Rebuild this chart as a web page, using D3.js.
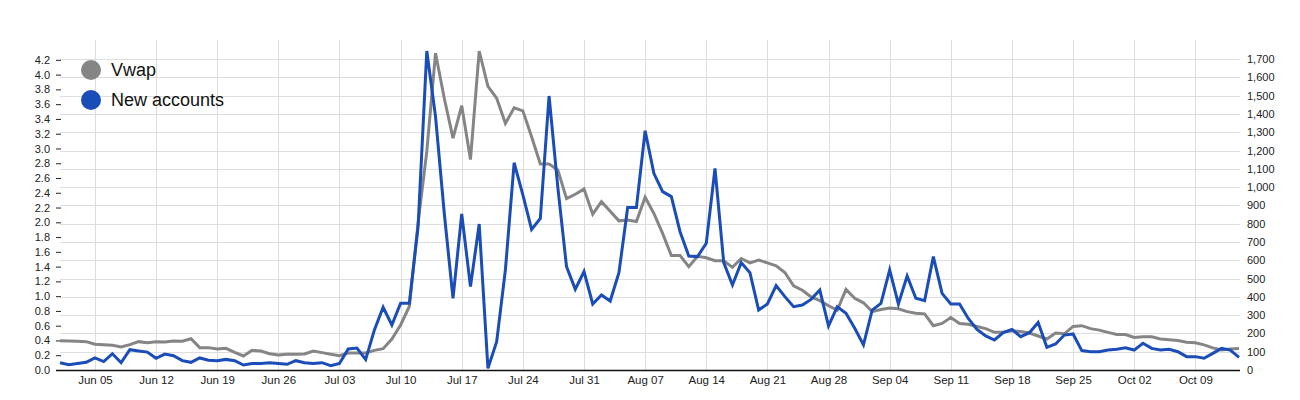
<!DOCTYPE html>
<html>
<head>
<meta charset="utf-8">
<script src="https://cdn.jsdelivr.net/npm/d3@7"></script>
<style>
  html, body { margin: 0; padding: 0; background: #fff; }
  svg { display: block; font-family: "Liberation Sans", Arial, sans-serif; }
</style>
</head>
<body>
<svg id="chart" width="1300" height="400"></svg>
<script>
// ---------- DATA ----------
const seriesNames = ["Vwap", "New accounts"];
const seriesColors = ["#858585", "#1a4db8"];
const startDay = "2016-06-01";
const endDay = "2016-10-14";

const vwap = [
  0.397, 0.393, 0.389, 0.384, 0.348, 0.343, 0.334, 0.312, 0.343, 0.384,
  0.370, 0.384, 0.379, 0.393, 0.389, 0.424, 0.303, 0.303, 0.285, 0.294,
  0.240, 0.190, 0.266, 0.257, 0.221, 0.203, 0.212, 0.212, 0.217, 0.257,
  0.235, 0.212, 0.194, 0.230, 0.230, 0.230, 0.266, 0.289, 0.420, 0.610,
  0.860, 1.990, 2.960, 4.290, 3.680, 3.140, 3.580, 2.850, 4.320, 3.840,
  3.680, 3.340, 3.550, 3.510, 3.160, 2.790, 2.790, 2.710, 2.320, 2.380,
  2.450, 2.110, 2.280, 2.150, 2.020, 2.030, 2.010, 2.340, 2.120, 1.850,
  1.550, 1.550, 1.400, 1.540, 1.520, 1.480, 1.480, 1.390, 1.510, 1.450,
  1.490, 1.450, 1.410, 1.320, 1.140, 1.080, 0.990, 0.940, 0.870, 0.810,
  1.090, 0.970, 0.910, 0.790, 0.820, 0.840, 0.830, 0.790, 0.770, 0.760,
  0.600, 0.630, 0.710, 0.630, 0.620, 0.590, 0.560, 0.510, 0.510, 0.530,
  0.520, 0.500, 0.460, 0.420, 0.500, 0.490, 0.590, 0.600, 0.560, 0.540,
  0.510, 0.480, 0.480, 0.440, 0.450, 0.450, 0.420, 0.410, 0.400, 0.375,
  0.370, 0.340, 0.300, 0.270, 0.285, 0.290
];

const newAccounts = [
  40, 29, 35, 42, 66, 46, 89, 40, 111, 104,
  98, 64, 87, 78, 51, 42, 66, 53, 51, 58,
  51, 27, 35, 36, 40, 35, 31, 51, 40, 35,
  40, 24, 36, 115, 120, 57, 219, 343, 246, 365,
  365, 783, 1744, 1385, 857, 392, 853, 456, 798, 9,
  155, 547, 1133, 957, 769, 829, 1498, 1000, 565, 441,
  538, 361, 410, 377, 532, 888, 888, 1308, 1075, 975,
  948, 756, 623, 620, 693, 1102, 587, 465, 587, 532,
  328, 361, 461, 401, 346, 355, 386, 437, 241, 346,
  310, 228, 137, 328, 364, 547, 361, 514, 392, 379,
  620, 419, 361, 361, 282, 222, 186, 164, 204, 222,
  182, 204, 260, 124, 142, 191, 197, 106, 100, 100,
  109, 113, 122, 109, 146, 118, 109, 113, 100, 73,
  73, 64, 91, 118, 109, 69
];

const xTickLabels = ["Jun 05", "Jun 12", "Jun 19", "Jun 26", "Jul 03", "Jul 10", "Jul 17",
  "Jul 24", "Jul 31", "Aug 07", "Aug 14", "Aug 21", "Aug 28", "Sep 04", "Sep 11",
  "Sep 18", "Sep 25", "Oct 02", "Oct 09"];
const leftTicks = [0, 0.2, 0.4, 0.6, 0.8, 1.0, 1.2, 1.4, 1.6, 1.8, 2.0, 2.2, 2.4, 2.6, 2.8,
  3.0, 3.2, 3.4, 3.6, 3.8, 4.0, 4.2];
const rightTicks = [0, 100, 200, 300, 400, 500, 600, 700, 800, 900, 1000, 1100, 1200, 1300,
  1400, 1500, 1600, 1700];

// ---------- LAYOUT ----------
const L = 60, R = 1239, T = 51, B = 370;
const svg = d3.select("#chart");

const parseDay = d3.timeParse("%Y-%m-%d");
const dates = d3.timeDays(parseDay(startDay), d3.timeDay.offset(parseDay(endDay), 1));
const parseTick = d3.timeParse("%Y %b %d");
const xTickDates = xTickLabels.map(s => parseTick("2016 " + s));

const x = d3.scaleTime().domain([dates[0], dates[dates.length - 1]]).range([L, R]);
const yL = d3.scaleLinear().domain([0, d3.max(vwap)]).range([B, T]);
const yR = d3.scaleLinear().domain([0, d3.max(newAccounts)]).range([B, T]);

// gridlines
const grid = svg.append("g").attr("stroke", "#dedede").attr("stroke-width", 1);
grid.selectAll("line.h").data(rightTicks.slice(1)).join("line")
  .attr("x1", L).attr("x2", R + 1)
  .attr("y1", d => Math.round(yR(d)) + 0.5).attr("y2", d => Math.round(yR(d)) + 0.5);
grid.selectAll("line.v").data(xTickDates).join("line")
  .attr("x1", d => Math.round(x(d)) + 0.5).attr("x2", d => Math.round(x(d)) + 0.5)
  .attr("y1", 40).attr("y2", B);

// left axis
const axL = svg.append("g").attr("transform", `translate(${L + 1},0)`)
  .call(d3.axisLeft(yL).tickValues(leftTicks).tickFormat(d3.format(".1f")).tickSize(5).tickPadding(6));
axL.select(".domain").remove();
axL.selectAll("text").attr("font-size", 11).attr("fill", "#222").attr("font-family", "Liberation Sans, Arial, sans-serif");
axL.selectAll("line").attr("stroke", "#222");

// right axis
const axR = svg.append("g").attr("transform", `translate(${R + 1},0)`)
  .call(d3.axisRight(yR).tickValues(rightTicks).tickFormat(d3.format(",")).tickSize(0).tickPadding(7));
axR.select(".domain").remove();
axR.selectAll("text").attr("font-size", 11).attr("fill", "#222").attr("font-family", "Liberation Sans, Arial, sans-serif");

// bottom axis
const axB = svg.append("g").attr("transform", `translate(0,${B})`)
  .call(d3.axisBottom(x).tickValues(xTickDates).tickFormat(d3.timeFormat("%b %d")).tickSize(0).tickPadding(6));
axB.select(".domain").remove();
axB.selectAll("text").attr("font-size", 11.5).attr("fill", "#222").attr("font-family", "Liberation Sans, Arial, sans-serif");
svg.append("line").attr("x1", 56).attr("x2", R + 1).attr("y1", B + 0.5).attr("y2", B + 0.5)
  .attr("stroke", "#111").attr("stroke-width", 1.3);

// clip
svg.append("clipPath").attr("id", "plotclip").append("rect")
  .attr("x", L - 5).attr("y", T - 2).attr("width", R - L + 10).attr("height", B - T + 4);

const plot = svg.append("g").attr("clip-path", "url(#plotclip)");
const lineL = d3.line().x((d, i) => x(dates[i])).y(d => yL(d));
const lineR = d3.line().x((d, i) => x(dates[i])).y(d => yR(d));
plot.append("path").datum(vwap).attr("d", lineL)
  .attr("fill", "none").attr("stroke", seriesColors[0]).attr("stroke-width", 3).attr("stroke-linejoin", "miter");
plot.append("path").datum(newAccounts).attr("d", lineR)
  .attr("fill", "none").attr("stroke", seriesColors[1]).attr("stroke-width", 3).attr("stroke-linejoin", "miter");

// legend
const leg = svg.append("g");
seriesNames.forEach((name, i) => {
  const cy = 70 + i * 30;
  leg.append("circle").attr("cx", 91).attr("cy", cy).attr("r", 10).attr("fill", seriesColors[i]);
  leg.append("text").attr("x", 111).attr("y", cy).attr("dy", "0.35em")
    .attr("font-size", 18).attr("fill", "#111").text(name);
});
</script>
</body>
</html>
